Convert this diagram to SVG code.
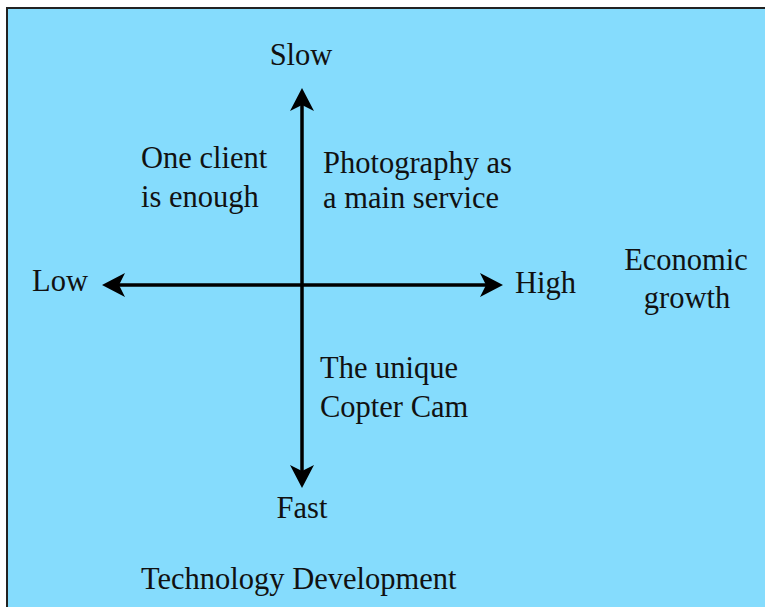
<svg xmlns="http://www.w3.org/2000/svg" width="765" height="607" viewBox="0 0 765 607">
  <style>
    .t { font-family: "Liberation Serif", "Times New Roman", serif; font-size: 30.5px; fill: #111; }
    .ax { stroke: #000; stroke-width: 3.5; fill: none; }
  </style>
  <defs>
    <marker id="ah" markerUnits="userSpaceOnUse" viewBox="-1 -13 26 26" markerWidth="26" markerHeight="26" refX="8" refY="0" orient="auto-start-reverse">
      <path d="M0,-12 L23,0 L0,12 L6,0 Z" fill="#000"/>
    </marker>
  </defs>
  <rect width="765" height="607" fill="#fff"/>
  <rect id="frame" x="7" y="8" width="770" height="610" fill="#85DCFD" stroke="#222" stroke-width="2"/>
  <g id="connectors">
    <line class="ax" x1="117" y1="285" x2="488" y2="285" marker-start="url(#ah)" marker-end="url(#ah)"/>
    <line class="ax" x1="302" y1="103" x2="302" y2="473" marker-start="url(#ah)" marker-end="url(#ah)"/>
  </g>
  <g id="slow"><text class="t" x="301" y="65" text-anchor="middle">Slow</text></g>
  <g id="fast"><text class="t" x="302" y="518" text-anchor="middle">Fast</text></g>
  <g id="low"><text class="t" x="32" y="291">Low</text></g>
  <g id="high"><text class="t" x="515" y="293">High</text></g>
  <g id="q-one-client"><text class="t" x="141" y="168">One client</text><text class="t" x="141" y="207">is enough</text></g>
  <g id="q-photography"><text class="t" x="323" y="173">Photography as</text><text class="t" x="323" y="208">a main service</text></g>
  <g id="q-copter"><text class="t" x="320" y="378">The unique</text><text class="t" x="320" y="417">Copter Cam</text></g>
  <g id="economic"><text class="t" x="686" y="270" text-anchor="middle">Economic</text><text class="t" x="687" y="308" text-anchor="middle">growth</text></g>
  <g id="tech"><text class="t" x="141" y="589">Technology Development</text></g>
</svg>
